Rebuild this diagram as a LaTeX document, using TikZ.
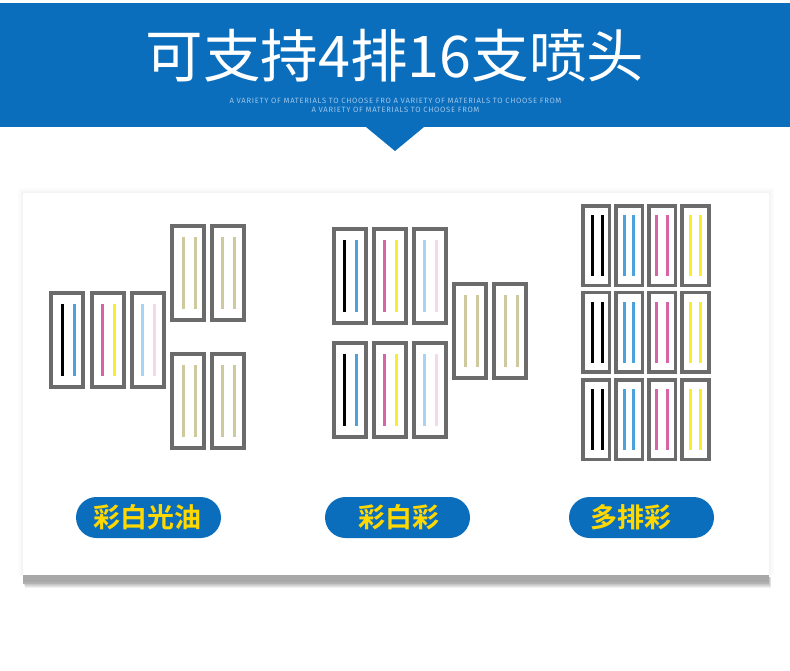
\documentclass[tikz,border=0pt]{standalone}
\usepackage{fontspec}
\usepackage{tikz}
\newfontfamily\cjk[BoldFont=* Bold]{Noto Sans CJK SC}
\newfontfamily\capsfont[LetterSpace=9]{Fira Sans}
\definecolor{bandblue}{HTML}{0A6EBD}
\definecolor{subblue}{HTML}{9CC4E8}
\definecolor{labelyellow}{HTML}{FFD800}
\definecolor{framegray}{HTML}{6B6B6B}
\definecolor{inkblue}{HTML}{4EA2DC}
\definecolor{inkmagenta}{HTML}{D864A8}
\definecolor{inkyellow}{HTML}{F7EE2E}
\definecolor{inklightblue}{HTML}{A9D3F2}
\definecolor{inkpink}{HTML}{F5D9EA}
\definecolor{inkwhite}{HTML}{CFC9A0}
\tikzset{
  headframe/.style={draw=framegray, line width=4pt, fill=white},
  strip/.style={line width=3pt},
  pill/.style={fill=bandblue, rounded corners=20.5pt, minimum width=145pt, minimum height=41pt, inner sep=0pt},
  pilltext/.style={text=labelyellow, font=\cjk\bfseries\fontsize{27}{27}\selectfont, inner sep=0pt},
  subline/.style={text=subblue, font=\capsfont\fontsize{7.65}{8}\selectfont, inner sep=0pt}
}
\begin{document}
\begin{tikzpicture}[x=1pt, y=-1pt]
\useasboundingbox (0,0) rectangle (790,670);
\fill[white] (0,0) rectangle (790,670);

% header band
\fill[bandblue] (0,3) rectangle (790,127);
\fill[bandblue] (366,127) -- (424,127) -- (395,151) -- cycle;
\node[text=white, font=\cjk\fontsize{57.5}{58}\selectfont, inner sep=0pt] (title) at (395,55.5) {可支持4排16支喷头};
\node[subline] (subone) at (395.5,100.7) {A VARIETY OF MATERIALS TO CHOOSE FRO A VARIETY OF MATERIALS TO CHOOSE FROM};
\node[subline] (subtwo) at (395.5,109.7) {A VARIETY OF MATERIALS TO CHOOSE FROM};

% card with shadow
\foreach \s in {5,3.5,2,1}
  \fill[black, opacity=0.012] (23-\s,193-\s) rectangle (769+\s,575);
\foreach \s in {4,3,2,1}
  \fill[black, opacity=0.06] (23+\s/2,577) rectangle (769+\s/2,584+\s);
\fill[black!34] (23,575) rectangle (769,582);
\fill[black!30] (23,582) rectangle (769,584);
\fill[white] (23,193) rectangle (769,575);

% heads: x, y, strip a, strip b, colours (big size)
\foreach \x/\y/\ca/\cb in {
  49/291/black/inkblue, 89.5/291/inkmagenta/inkyellow, 129.5/291/inklightblue/inkpink,
  170/224/inkwhite/inkwhite, 209.5/224/inkwhite/inkwhite,
  170/352/inkwhite/inkwhite, 209.5/352/inkwhite/inkwhite,
  331.5/227/black/inkblue, 371.5/227/inkmagenta/inkyellow, 411.5/227/inklightblue/inkpink,
  331.5/341/black/inkblue, 371.5/341/inkmagenta/inkyellow, 411.5/341/inklightblue/inkpink,
  452/282/inkwhite/inkwhite, 492/282/inkwhite/inkwhite}{
  \draw[headframe] (\x+2,\y+2) rectangle (\x+34,\y+96);
  \draw[strip, \ca] (\x+13,\y+13) -- (\x+13,\y+85);
  \draw[strip, \cb] (\x+25.2,\y+13) -- (\x+25.2,\y+85);
}

% heads of the third group (small size)
\foreach \y in {204,290.5,378}{
  \foreach \x/\a/\b/\ca in {581/11/21/black, 614/10.3/19.3/inkblue, 647/9.7/20/inkmagenta, 680.3/9.7/19.7/inkyellow}{
    \draw[headframe, line width=3.6pt] (\x+1.8,\y+1.8) rectangle (\x+28.5,\y+81.3);
    \draw[strip, \ca] (\x+\a,\y+11.3) -- (\x+\a,\y+72);
    \draw[strip, \ca] (\x+\b,\y+11.3) -- (\x+\b,\y+72);
  }
}

% labels
\node[pill] (pillone) at (148.5,517.5) {};
\node[pill] (pilltwo) at (397.5,517.5) {};
\node[pill] (pillthree) at (641.5,517.5) {};
\node[pilltext] (labelone) at (147.3,517) {彩白光油};
\node[pilltext] (labeltwo) at (398.7,517) {彩白彩};
\node[pilltext] (labelthree) at (630.5,517) {多排彩};
\end{tikzpicture}
\end{document}
